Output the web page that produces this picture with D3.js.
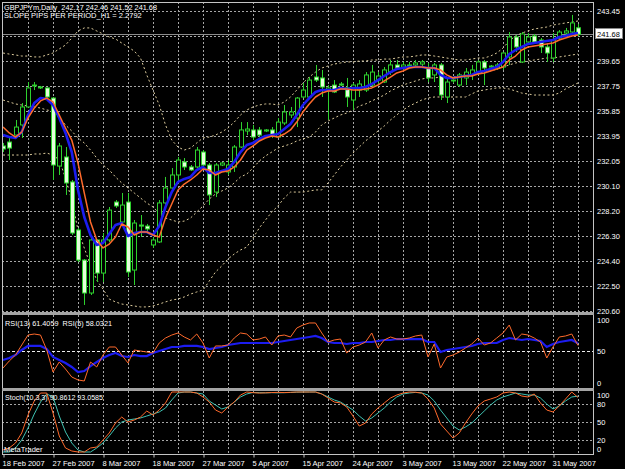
<!DOCTYPE html>
<html><head><meta charset="utf-8">
<script src="https://cdn.jsdelivr.net/npm/d3@7"></script>
<style>
html,body{margin:0;padding:0;background:#000;}
svg{display:block;}
text{font-family:"Liberation Sans",Arial,sans-serif;font-size:7.5px;fill:#fff;}
</style></head><body>
<svg id="c" width="625" height="469"></svg>
<script>
// ---------------- data ----------------
const symbolTitle = "GBPJPYm,Daily  242.17 242.46 241.52 241.68";
const slopeTitle = "SLOPE PIPS PER PERIOD_H1 = 2.2792";
const rsiTitle = "RSI(13) 61.4059  RSI(5) 58.0321";
const stochTitle = "Stoch(10,3,3) 90.8612 93.0585";
const dateIndex = [0,8,16,24,32,40,48,56,64,72,80,88];
const dateLabels = ["18 Feb 2007","27 Feb 2007","8 Mar 2007","18 Mar 2007","27 Mar 2007","5 Apr 2007","15 Apr 2007","24 Apr 2007","3 May 2007","13 May 2007","22 May 2007","31 May 2007"];
const priceTicks = [243.45,241.55,239.65,237.75,235.85,233.95,232.05,230.10,228.20,226.30,224.40,222.50,220.60];
const rsiTicks = [100,50,0];
const rsiLevels = [50];
const stochTicks = [100,80,50,20,0];
const stochLevels = [80,50,20];
const lastPrice = 241.68;

const open = [233.17,233.47,234.00,234.77,236.14,237.74,237.66,237.59,236.82,231.64,
232.33,230.43,226.77,224.48,221.97,226.01,223.49,226.01,228.90,227.38,
228.90,223.72,227.15,227.07,225.63,225.86,228.83,229.97,230.96,231.95,
231.57,231.57,232.71,231.72,229.66,231.72,231.19,231.57,233.09,234.31,
234.39,234.39,234.31,234.39,233.85,234.92,235.53,235.30,236.90,236.90,
238.42,238.35,237.43,237.81,237.89,237.59,236.67,237.43,237.43,237.81,
238.19,238.04,238.80,239.34,239.18,239.34,239.34,239.41,239.11,238.58,
239.34,236.90,238.12,237.81,238.35,238.58,238.80,239.57,239.18,239.11,
239.18,239.95,241.47,239.57,241.09,241.55,241.24,240.71,239.87,241.39,
241.77,241.85,242.17];
const high = [233.40,233.78,235.15,236.44,238.04,238.04,237.74,237.62,236.90,233.40,
233.09,230.58,226.92,224.56,226.16,226.05,226.54,228.52,229.05,229.59,
229.59,227.53,227.91,227.23,226.24,229.05,230.81,231.49,232.33,232.25,
231.72,233.09,232.86,231.87,231.87,231.95,232.10,233.24,234.99,234.99,
234.77,234.61,234.46,234.61,235.30,236.29,236.14,236.90,237.97,238.42,
239.34,238.96,237.81,238.19,238.04,238.35,237.97,238.19,238.80,239.34,
238.80,239.18,239.72,239.72,239.57,239.57,239.72,239.72,239.49,239.49,
239.49,238.35,238.35,238.73,239.11,239.34,239.72,239.72,239.34,239.49,
240.33,241.85,241.62,241.85,241.77,241.70,241.39,241.01,241.77,242.00,
242.16,243.15,242.46];
const low = [232.71,232.10,233.85,233.78,236.10,237.43,237.51,236.75,230.58,230.96,
229.44,226.39,224.33,221.06,221.82,222.81,222.81,225.86,228.45,227.23,
223.19,222.58,226.24,226.62,225.40,225.78,228.67,229.66,230.35,231.34,
231.26,231.49,231.49,228.67,229.28,231.64,230.96,231.19,233.01,234.00,
233.62,233.85,234.23,233.78,233.78,234.77,235.30,234.61,236.82,236.82,
238.04,236.90,235.15,237.20,237.74,236.14,235.91,236.90,237.28,237.59,
237.89,237.97,238.58,238.96,238.96,239.18,239.18,239.18,238.04,238.04,
236.67,236.44,237.97,237.66,237.81,238.19,238.58,237.81,238.96,238.96,
238.96,239.34,240.33,239.49,240.86,240.94,240.25,239.57,239.57,241.24,
241.62,241.70,241.52];
const close = [232.94,233.01,234.61,236.14,237.59,237.81,237.59,236.90,231.72,233.17,
230.35,226.54,224.48,221.97,226.01,223.49,226.01,228.29,228.60,228.67,
223.57,227.30,227.07,226.85,226.01,228.83,229.97,230.96,232.10,231.57,
231.34,232.86,231.72,229.44,231.72,231.87,231.72,233.09,234.39,234.46,
233.85,234.00,234.39,234.00,234.99,235.76,235.76,236.82,237.43,238.19,
238.19,237.66,237.59,237.28,237.81,236.90,237.81,237.89,238.58,238.80,
238.50,238.96,239.34,239.11,239.34,239.26,239.49,239.57,238.35,239.34,
237.05,238.04,238.19,238.58,238.80,238.96,239.57,239.11,239.26,239.34,
240.25,241.47,240.71,241.70,241.47,241.09,240.71,240.25,241.24,241.85,
241.93,242.54,241.68];

const maFast = [234.00,233.85,233.78,234.23,235.53,236.44,236.82,236.75,236.29,235.30,
234.16,232.71,229.82,227.76,226.39,225.63,225.78,226.47,227.15,227.30,
226.31,226.54,226.62,226.62,226.39,227.07,228.52,229.66,230.43,230.66,
230.81,231.34,231.57,231.11,231.11,231.26,231.42,231.95,232.71,233.24,
233.40,233.70,233.93,234.00,234.08,234.46,234.84,235.53,236.29,236.82,
237.28,237.43,237.43,237.43,237.59,237.51,237.59,237.59,237.66,237.89,
238.19,238.50,238.80,239.03,239.11,239.18,239.18,239.18,239.11,239.11,
238.58,238.35,238.35,238.42,238.50,238.58,238.80,238.88,239.03,239.18,
239.57,240.17,240.48,240.71,240.94,241.01,241.09,241.17,241.24,241.47,
241.55,241.70,241.77];
const maSlow = [234.61,234.16,233.85,234.23,235.30,236.06,236.60,236.82,236.52,235.53,
234.54,233.62,231.87,229.59,227.38,226.01,225.40,225.70,226.24,227.23,
227.00,226.39,226.62,226.62,226.39,226.24,227.68,228.75,229.82,230.27,
230.58,230.96,231.42,231.34,230.96,231.19,231.26,231.57,232.10,232.86,
233.17,233.55,233.78,233.93,233.85,234.08,234.39,234.99,235.76,236.37,
236.90,237.20,237.36,237.36,237.51,237.51,237.43,237.43,237.51,237.59,
237.81,238.12,238.42,238.73,238.88,239.11,239.18,239.18,239.11,239.11,
238.96,238.58,238.35,238.42,238.50,238.50,238.65,238.73,238.88,239.03,
239.18,239.72,240.02,240.48,240.71,240.79,240.86,240.94,241.01,241.24,
241.39,241.55,241.62];

const bbUpper = [240.25,240.17,240.10,240.02,240.02,239.95,239.95,240.10,240.25,240.56,
240.86,241.39,241.93,242.16,242.16,241.93,241.70,241.47,241.32,241.01,
240.71,240.40,239.87,238.58,237.43,236.29,234.77,233.62,233.09,232.86,
233.01,233.40,233.78,233.85,234.00,234.23,234.54,234.99,235.53,235.91,
236.14,236.29,236.37,236.37,236.29,236.52,236.90,237.43,237.97,238.42,
238.80,239.11,239.26,239.41,239.49,239.57,239.57,239.64,239.64,239.72,
239.72,239.79,239.79,239.87,239.95,239.95,240.02,240.10,240.10,240.02,
239.95,239.87,239.79,239.72,239.72,239.79,239.87,239.87,240.02,240.25,
240.63,241.17,241.55,241.77,241.93,242.08,242.16,242.23,242.38,242.46,
242.54,242.61,242.69];
const bbMiddle = [236.67,236.52,236.37,236.29,236.21,236.14,236.06,235.91,235.83,235.30,
234.77,234.31,233.78,233.40,232.86,232.25,231.72,231.34,230.81,230.35,
229.97,229.59,229.21,228.83,228.52,228.06,227.68,227.53,227.38,227.45,
227.68,228.14,228.60,229.13,229.51,229.74,229.97,230.35,230.81,231.03,
231.49,232.02,232.41,232.71,233.01,233.17,233.32,233.55,233.70,233.85,
234.23,234.77,235.07,235.30,235.53,235.68,235.91,236.21,236.37,236.60,
236.82,237.05,237.36,237.59,237.81,237.97,238.12,238.27,238.35,238.35,
238.42,238.42,238.42,238.50,238.58,238.65,238.73,238.80,238.88,239.03,
239.18,239.34,239.49,239.57,239.64,239.72,239.79,239.87,239.87,239.95,
240.02,240.10,240.17];
const bbLower = [232.48,232.48,232.48,232.48,232.48,232.56,232.56,232.63,232.48,232.10,
230.73,229.05,226.77,225.40,224.10,222.96,222.27,221.51,221.29,221.13,
221.06,220.98,220.91,220.91,220.98,221.13,221.29,221.44,221.51,221.67,
221.89,222.05,222.20,222.88,223.57,224.03,224.56,224.94,225.25,225.47,
226.16,226.92,227.53,228.14,228.60,229.21,229.66,229.66,229.66,229.74,
229.82,229.82,230.35,230.96,231.57,232.10,232.63,233.09,233.55,233.93,
234.31,234.69,235.15,235.53,235.91,236.21,236.44,236.67,236.82,236.90,
236.90,236.90,236.90,236.90,236.90,237.13,237.36,237.43,237.51,237.59,
237.59,237.51,237.36,237.20,237.13,237.05,237.05,237.05,237.05,237.20,
237.51,237.74,237.97];

const rsi5 = [25.0,35.3,44.1,58.8,73.5,75.0,73.5,51.5,19.1,33.8,
23.5,11.8,7.4,5.9,33.8,26.5,44.1,55.9,55.9,44.1,
32.4,51.5,50.0,48.5,47.1,61.8,69.1,73.5,76.5,70.6,
66.2,75.0,61.8,39.7,57.4,57.4,58.8,69.1,76.5,75.0,
66.2,67.6,70.6,58.8,72.1,73.5,70.6,83.8,88.2,91.2,
91.2,76.5,63.2,66.2,67.6,47.1,55.9,58.8,63.2,76.5,
54.4,66.2,70.6,67.6,67.6,69.1,72.1,73.5,41.2,60.3,
25.0,41.2,44.1,48.5,54.4,60.3,69.1,58.8,61.8,69.1,
76.5,88.2,66.2,75.0,73.5,69.1,63.2,39.7,55.9,70.6,
72.1,75.0,58.0321];
const rsi13 = [36.8,39.7,44.1,51.5,57.4,57.4,57.4,52.9,41.2,36.8,
32.4,26.5,19.1,20.6,27.9,33.8,39.7,44.1,47.1,42.6,
41.2,44.1,42.6,42.6,47.1,50.0,52.9,55.9,55.9,57.4,
57.4,57.4,55.9,52.9,54.4,55.9,58.8,60.3,61.8,61.8,
61.8,61.8,61.8,61.8,63.2,64.7,66.2,67.6,69.1,70.6,
72.1,69.1,63.2,61.8,61.8,60.3,61.8,61.8,63.2,63.2,
64.7,66.2,66.2,67.6,67.6,67.6,67.6,67.6,63.2,63.2,
48.5,51.5,52.9,54.4,55.9,57.4,60.3,61.8,61.8,61.8,
66.2,69.1,67.6,66.2,67.6,66.2,64.7,55.9,60.3,63.2,
64.7,66.2,61.4059];

const stochMain = [3.3,6.7,15.0,31.7,61.7,85.0,98.3,98.3,65.0,26.7,
6.7,1.7,0,0,6.7,8.3,20.0,31.7,48.3,58.3,
50.0,53.3,58.3,68.3,61.7,70.0,81.7,100,100,100,
100,98.3,91.7,83.3,70.0,65.0,75.0,83.3,95.0,100,
98.9,98.2,98.6,99.1,99.4,99.0,99.5,100,100,100,
100,96.7,90.0,83.3,81.7,75.0,60.0,43.3,48.3,63.3,
73.3,81.7,90.0,95.0,98.3,100,99.6,98.3,88.3,73.3,
46.7,35.0,23.3,31.7,48.3,63.3,76.7,85.0,88.3,91.7,
98.3,100,98.3,93.3,91.7,96.7,81.7,70.0,66.7,76.7,
88.3,100,90.8612];
const stochSignal = [0,0,6.7,20.0,40.0,63.3,83.3,96.7,91.7,60.0,
33.3,15.0,3.3,0,0,6.7,15.0,26.7,40.0,50.0,
53.3,55.0,56.7,60.0,63.3,66.7,73.3,86.7,98.3,100,
100,98.3,96.7,85.0,78.3,71.7,75.0,83.3,91.7,96.7,
99.2,98.9,98.6,98.9,98.6,98.9,99.2,99.7,100,100,
100,96.7,91.7,86.7,83.3,76.7,70.0,60.0,51.7,56.7,
65.0,73.3,83.3,91.7,96.7,98.3,99.3,98.3,95.0,85.0,
70.0,56.7,43.3,36.7,41.7,48.3,58.3,68.3,78.3,86.7,
91.7,95.0,98.3,96.7,95.0,95.0,90.0,80.0,71.7,76.7,
85.0,91.7,93.0585];

// ---------------- layout ----------------
const L = 2, R = 594;
const mainP = {top: 2, bottom: 312};
const rsiP = {top: 315, bottom: 388};
const stoP = {top: 391, bottom: 454};
const n = close.length;
const idx = d3.range(n);

const x = d3.scaleLinear().domain([0, n - 1]).range([3, 578]);
const yP = d3.scaleLinear().domain([220.60, 243.45]).range([311, 11]);
const yR = d3.scaleLinear().domain([0, 100]).range([385, 317]);
const yS = d3.scaleLinear().domain([0, 100]).range([452, 392]);

const GRID = "#a6a6a6", FRAME = "#c4c4c4", GREEN = "#2ed12e", BEAR = "#e6ffdc";
const BLUE = "#1c1cf0", ORANGE = "#ff6a2c", TEAL = "#3fc2b2", BAND = "#dccb9c";

const svg = d3.select("#c");
svg.append("rect").attr("width", 625).attr("height", 469).attr("fill", "#000");
const defs = svg.append("defs");
function clip(id, p) {
  defs.append("clipPath").attr("id", id).append("rect")
    .attr("x", L).attr("y", p.top).attr("width", R - L).attr("height", p.bottom - p.top);
  return "url(#" + id + ")";
}
const cMain = clip("cm", mainP), cRsi = clip("cr", rsiP), cSto = clip("cs", stoP);

const px = v => Math.round(v) + 0.5;
const gridIdx = idx.filter(i => i % 4 === 0 && i > 0);

// vertical grid in every pane
[mainP, rsiP, stoP].forEach(p => {
  svg.append("g").selectAll("line").data(gridIdx).join("line")
    .attr("x1", i => px(x(i))).attr("x2", i => px(x(i)))
    .attr("y1", p.top).attr("y2", p.bottom)
    .attr("stroke", GRID).attr("stroke-dasharray", "2,2");
});
// horizontal price grid
svg.append("g").selectAll("line").data(priceTicks).join("line")
  .attr("x1", L).attr("x2", R)
  .attr("y1", d => px(yP(d))).attr("y2", d => px(yP(d)))
  .attr("stroke", GRID).attr("stroke-dasharray", "2,2");
// rsi levels
svg.append("g").selectAll("line").data(rsiLevels).join("line")
  .attr("x1", L).attr("x2", R)
  .attr("y1", d => px(yR(d))).attr("y2", d => px(yR(d)))
  .attr("stroke", "#ececec").attr("stroke-dasharray", "3,2");
// stoch levels
svg.append("g").selectAll("line").data(stochLevels).join("line")
  .attr("x1", L).attr("x2", R)
  .attr("y1", d => px(yS(d))).attr("y2", d => px(yS(d)))
  .attr("stroke", GRID).attr("stroke-dasharray", "2,2");

// current price line
svg.append("line").attr("x1", L).attr("x2", R)
  .attr("y1", px(yP(lastPrice))).attr("y2", px(yP(lastPrice)))
  .attr("stroke", "#8c8c8c");

// ---------------- main pane ----------------
const gm = svg.append("g").attr("clip-path", cMain);
const lineP = arr => d3.line().x(i => x(i)).y(i => yP(arr[i]))(idx);
[bbUpper, bbMiddle, bbLower].forEach(a => {
  gm.append("path").attr("d", lineP(a)).attr("fill", "none")
    .attr("stroke", BAND).attr("stroke-width", 1).attr("stroke-dasharray", "2,2.5");
});
const cg = gm.append("g");
cg.selectAll("line").data(idx).join("line")
  .attr("x1", i => px(x(i))).attr("x2", i => px(x(i)))
  .attr("y1", i => yP(high[i])).attr("y2", i => yP(low[i]))
  .attr("stroke", GREEN).attr("stroke-width", 1);
cg.selectAll("rect").data(idx).join("rect")
  .attr("x", i => Math.round(x(i)) - 1.5)
  .attr("width", 4)
  .attr("y", i => yP(Math.max(open[i], close[i])))
  .attr("height", i => Math.max(0.8, Math.abs(yP(open[i]) - yP(close[i]))))
  .attr("fill", i => close[i] < open[i] ? BEAR : "#000")
  .attr("stroke", GREEN).attr("stroke-width", 1);
gm.append("path").attr("d", lineP(maFast)).attr("fill", "none")
  .attr("stroke", BLUE).attr("stroke-width", 2.6).attr("stroke-linejoin", "round");
gm.append("path").attr("d", lineP(maSlow)).attr("fill", "none")
  .attr("stroke", ORANGE).attr("stroke-width", 1.5).attr("stroke-linejoin", "round");

// ---------------- rsi pane ----------------
const gr = svg.append("g").attr("clip-path", cRsi);
const lineR = arr => d3.line().x(i => x(i)).y(i => yR(arr[i]))(idx);
gr.append("path").attr("d", lineR(rsi13)).attr("fill", "none")
  .attr("stroke", BLUE).attr("stroke-width", 2.2);
gr.append("path").attr("d", lineR(rsi5)).attr("fill", "none")
  .attr("stroke", ORANGE).attr("stroke-width", 1);

// ---------------- stochastic pane ----------------
const gs = svg.append("g").attr("clip-path", cSto);
const lineS = arr => d3.line().x(i => x(i)).y(i => yS(arr[i]))(idx);
gs.append("path").attr("d", lineS(stochSignal)).attr("fill", "none")
  .attr("stroke", TEAL).attr("stroke-width", 1);
gs.append("path").attr("d", lineS(stochMain)).attr("fill", "none")
  .attr("stroke", ORANGE).attr("stroke-width", 1);

// ---------------- frames & separators ----------------
const fr = svg.append("g").attr("fill", "none").attr("stroke", FRAME);
fr.append("line").attr("x1", L + 0.5).attr("x2", L + 0.5).attr("y1", mainP.top).attr("y2", stoP.bottom + 0.5);
fr.append("line").attr("x1", R - 0.5).attr("x2", R - 0.5).attr("y1", mainP.top).attr("y2", stoP.bottom + 0.5);
fr.append("line").attr("x1", L).attr("x2", R).attr("y1", mainP.top + 0.5).attr("y2", mainP.top + 0.5);
fr.append("line").attr("x1", L).attr("x2", R).attr("y1", stoP.bottom + 0.5).attr("y2", stoP.bottom + 0.5);
[mainP.bottom, rsiP.bottom].forEach(yy => {
  svg.append("rect").attr("x", L).attr("y", yy).attr("width", R - L).attr("height", 3).attr("fill", "#a4a4a4");
});

// ---------------- axes ----------------
const yLast = yP(lastPrice);
const pAxis = svg.append("g").attr("transform", "translate(597,0)")
  .call(d3.axisRight(yP).tickValues(priceTicks.filter(v => Math.abs(yP(v) - yLast) > 7))
    .tickSize(0).tickPadding(0).tickFormat(d3.format(".2f")));
pAxis.select(".domain").remove();
pAxis.selectAll("text").attr("fill", "#fff").style("font-size", "7.5px").attr("font-family", null);

svg.append("rect").attr("x", 595.5).attr("y", Math.round(yLast) - 5.5).attr("width", 27).attr("height", 10)
  .attr("fill", "#fff").attr("stroke", "#888");
svg.append("text").attr("x", 597).attr("y", yLast + 2.8).style("fill", "#000").text(lastPrice.toFixed(2));

svg.append("g").selectAll("text").data(rsiTicks).join("text")
  .attr("x", 597).attr("y", d => Math.min(383, Math.max(320, yR(d))) + 2.8).text(d => d);
svg.append("g").selectAll("text").data(stochTicks).join("text")
  .attr("x", 597).attr("y", d => Math.min(449, Math.max(395, yS(d))) + 2.8).text(d => d);

const xAxis = svg.append("g").attr("transform", "translate(0," + (stoP.bottom + 0.5) + ")")
  .call(d3.axisBottom(x).tickValues(dateIndex).tickSize(3).tickPadding(0)
    .tickFormat((d, k) => dateLabels[k]));
xAxis.select(".domain").remove();
xAxis.selectAll(".tick line").attr("stroke", FRAME).attr("transform", "translate(0.5,0)");
xAxis.selectAll(".tick text").attr("fill", "#fff").attr("text-anchor", "start")
  .attr("x", -1).attr("y", 11).attr("dy", 0).style("font-size", "7.5px").attr("font-family", null);

// ---------------- titles ----------------
svg.append("text").attr("x", 4).attr("y", 10.3).attr("xml:space", "preserve")
  .attr("textLength", 153).attr("lengthAdjust", "spacingAndGlyphs").text(symbolTitle);
svg.append("text").attr("x", 4).attr("y", 17.8).text(slopeTitle);
svg.append("text").attr("x", 5).attr("y", 326).attr("xml:space", "preserve")
  .attr("textLength", 107).attr("lengthAdjust", "spacingAndGlyphs").text(rsiTitle);
svg.append("text").attr("x", 5).attr("y", 399.5)
  .attr("textLength", 98).attr("lengthAdjust", "spacingAndGlyphs").text(stochTitle);
svg.append("text").attr("x", 4).attr("y", 451.5).text("MetaTrader");
</script>
</body></html>
